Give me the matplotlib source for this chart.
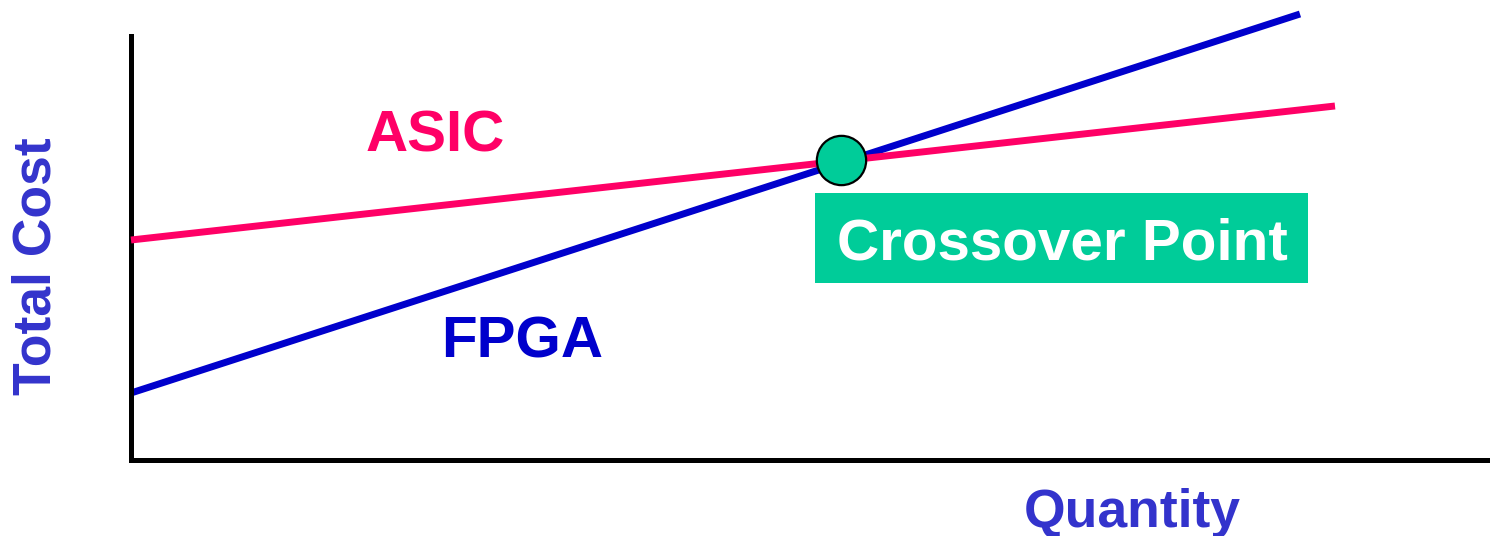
import matplotlib
matplotlib.use("Agg")
import matplotlib.pyplot as plt

plt.rcParams['font.family'] = ['Liberation Sans', 'DejaVu Sans']

# Cost model (arbitrary units): total cost vs. production quantity
qty_asic = [0, 1204]
cost_asic = [220, 354]
qty_fpga = [0, 1169]
cost_fpga = [67, 446]
crossover_qty = [710]
crossover_cost = [300]

asic_color = '#FF0066'
fpga_color = '#0000CC'
label_color = '#3333CC'
cross_color = '#00CC99'

W, H, DPI = 1490, 536, 100
fig = plt.figure(figsize=(W / DPI, H / DPI), dpi=DPI)
ax = fig.add_axes([131 / W, 76 / H, (W - 131) / W, 424 / H])
ax.set_xlim(0, 1359)
ax.set_ylim(0, 424)

ax.plot(qty_asic, cost_asic, color=asic_color, lw=5, solid_capstyle='butt', clip_on=False, zorder=3)
ax.plot(qty_fpga, cost_fpga, color=fpga_color, lw=5, solid_capstyle='butt', clip_on=False, zorder=2)
ax.plot(crossover_qty, crossover_cost, 'o', ms=35.5, mfc=cross_color, mec='black', mew=1.6,
        zorder=5, clip_on=False)

for s in ['top', 'right']:
    ax.spines[s].set_visible(False)
for s in ['left', 'bottom']:
    ax.spines[s].set_linewidth(3.6)
    ax.spines[s].set_color('black')
ax.set_xticks([])
ax.set_yticks([])

def px(x, y):
    return (x / W, 1 - y / H)

fig.text(*px(366, 152), 'ASIC', color=asic_color, fontsize=42, fontweight='bold',
         ha='left', va='baseline')
fig.text(*px(441, 357), 'FPGA', color=fpga_color, fontsize=42, fontweight='bold',
         ha='left', va='baseline')
fig.text(*px(37, 266), 'Total Cost', color=label_color, fontsize=38.5, fontweight='bold',
         ha='center', va='center', rotation=90)
fig.text(*px(1024, 527), 'Quantity', color=label_color, fontsize=38.5, fontweight='bold',
         ha='left', va='baseline')

box = plt.Rectangle(px(815, 283), (1308 - 815) / W, (283 - 193) / H,
                    transform=fig.transFigure, facecolor=cross_color, edgecolor='none', zorder=4)
fig.add_artist(box)
fig.text(*px(1062, 260), 'Crossover Point', color='white', fontsize=42, fontweight='bold',
         ha='center', va='baseline', zorder=6)

fig.savefig('out.png', dpi=DPI)
